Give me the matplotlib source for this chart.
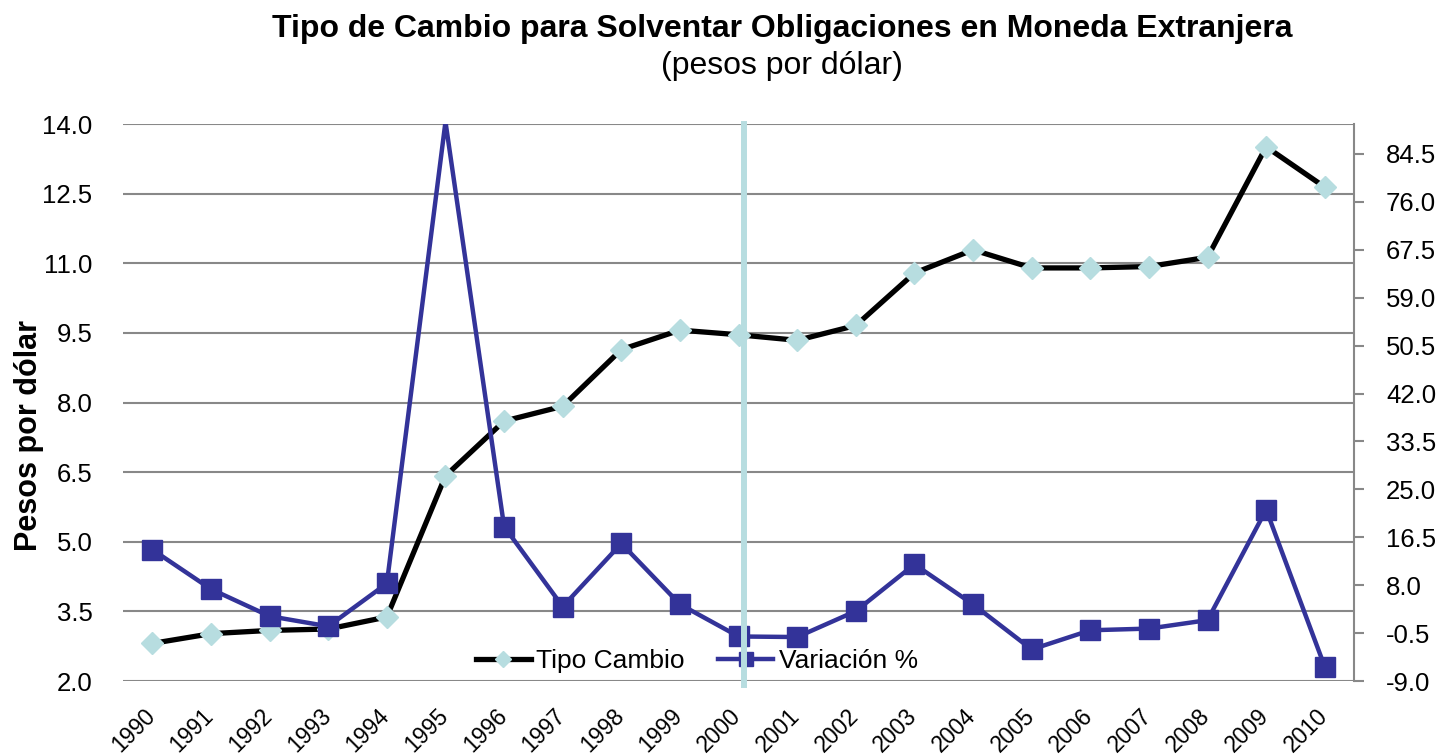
import matplotlib
matplotlib.use("Agg")
import matplotlib.pyplot as plt
import matplotlib.transforms as mtransforms
import numpy as np

plt.rcParams['font.family'] = ['Liberation Sans', 'DejaVu Sans']

# datos
anios = [str(a) for a in range(1990, 2011)]
tipo_cambio = [2.81, 3.02, 3.09, 3.12, 3.38, 6.42, 7.60, 7.92, 9.14, 9.56, 9.46,
               9.34, 9.66, 10.79, 11.29, 10.90, 10.90, 10.93, 11.13, 13.51, 12.64]
variacion = [14.3, 7.3, 2.5, 0.7, 8.3, 90.2, 18.4, 4.2, 15.4, 4.6, -1.1,
             -1.2, 3.4, 11.7, 4.6, -3.4, 0.0, 0.3, 1.8, 21.4, -6.5]
ticks_izq = [2.0, 3.5, 5.0, 6.5, 8.0, 9.5, 11.0, 12.5, 14.0]
ticks_der = [-9.0, -0.5, 8.0, 16.5, 25.0, 33.5, 42.0, 50.5, 59.0, 67.5, 76.0, 84.5]
max_der = 89.8
anio_marca = '2000'

azul = '#333399'
celeste = '#b7dde0'
gris = '#888888'

fig = plt.figure(figsize=(14.41, 7.55), dpi=100)
ax = fig.add_axes([0.0854, 0.098, 0.8543, 0.7377])
ax2 = ax.twinx()

x = np.arange(len(anios))
# los marcadores fuera del eje no se muestran (como en excel)
visibles = [i for i, v in enumerate(variacion) if v <= max_der]
ax.plot(x, tipo_cambio, color='black', lw=3.8, marker='D', ms=11,
        mfc=celeste, mec=celeste, label='Tipo Cambio', zorder=3)
ax2.plot(x, variacion, color=azul, lw=3.2, marker='s', ms=14, markevery=visibles,
         mfc=azul, mec=azul, label='Variación %', zorder=3)

ax.set_xlim(-0.5, len(anios) - 0.5)
ax.set_ylim(2.0, 14.0)
ax2.set_ylim(-9.0, max_der)
ax.set_yticks(ticks_izq)
ax.set_yticklabels(['{:.1f}'.format(v) for v in ticks_izq])
ax2.set_yticks(ticks_der)
ax2.set_yticklabels(['{:.1f}'.format(v) for v in ticks_der])
ax.set_xticks(x)
ax.set_xticklabels(anios, rotation=45, ha='right', rotation_mode='anchor')

ax.grid(axis='y', color=gris, lw=1.5)
ax.set_axisbelow(True)
for s in ['top', 'left', 'bottom', 'right']:
    ax.spines[s].set_visible(False)
for s in ['top', 'left', 'bottom']:
    ax2.spines[s].set_visible(False)
ax2.spines['right'].set_color(gris)
ax2.spines['right'].set_linewidth(1.5)

ax.tick_params(axis='y', length=0, labelsize=18.5, pad=22)
ax.tick_params(axis='x', length=0, labelsize=16.5, pad=9)
ax2.tick_params(axis='y', length=7, width=1.5, color=gris, labelsize=18.5, pad=16)

# mover las etiquetas de anio un poco abajo a la izquierda
desplaza = mtransforms.ScaledTranslation(-0.09, -0.11, fig.dpi_scale_trans)
for lbl in ax.get_xticklabels():
    lbl.set_transform(lbl.get_transform() + desplaza)

ax.set_ylabel('Pesos por dólar', fontsize=22, fontweight='bold')
ax.yaxis.set_label_coords(-0.064, 0.44)

h1, l1 = ax.get_legend_handles_labels()
h2, l2 = ax2.get_legend_handles_labels()
ax2.legend(h1 + h2, l1 + l2, loc='center', bbox_to_anchor=(0.466, 0.036),
           ncol=2, frameon=False, fontsize=19, handlelength=2.1,
           columnspacing=1.25, handletextpad=0.2, markerscale=0.75,
           borderpad=0, borderaxespad=0)

# linea vertical en el anio 2000
ax2.axvline(anios.index(anio_marca) + 0.1, ymin=-0.008, ymax=1.0, color=celeste,
            lw=4.3, zorder=10, clip_on=False)

fig.text(0.5427, 0.962, 'Tipo de Cambio para Solventar Obligaciones en Moneda Extranjera',
         ha='center', va='center', fontsize=23, fontweight='bold')
fig.text(0.5427, 0.913, '(pesos por dólar)', ha='center', va='center', fontsize=23)

fig.savefig('out.png', dpi=100)
